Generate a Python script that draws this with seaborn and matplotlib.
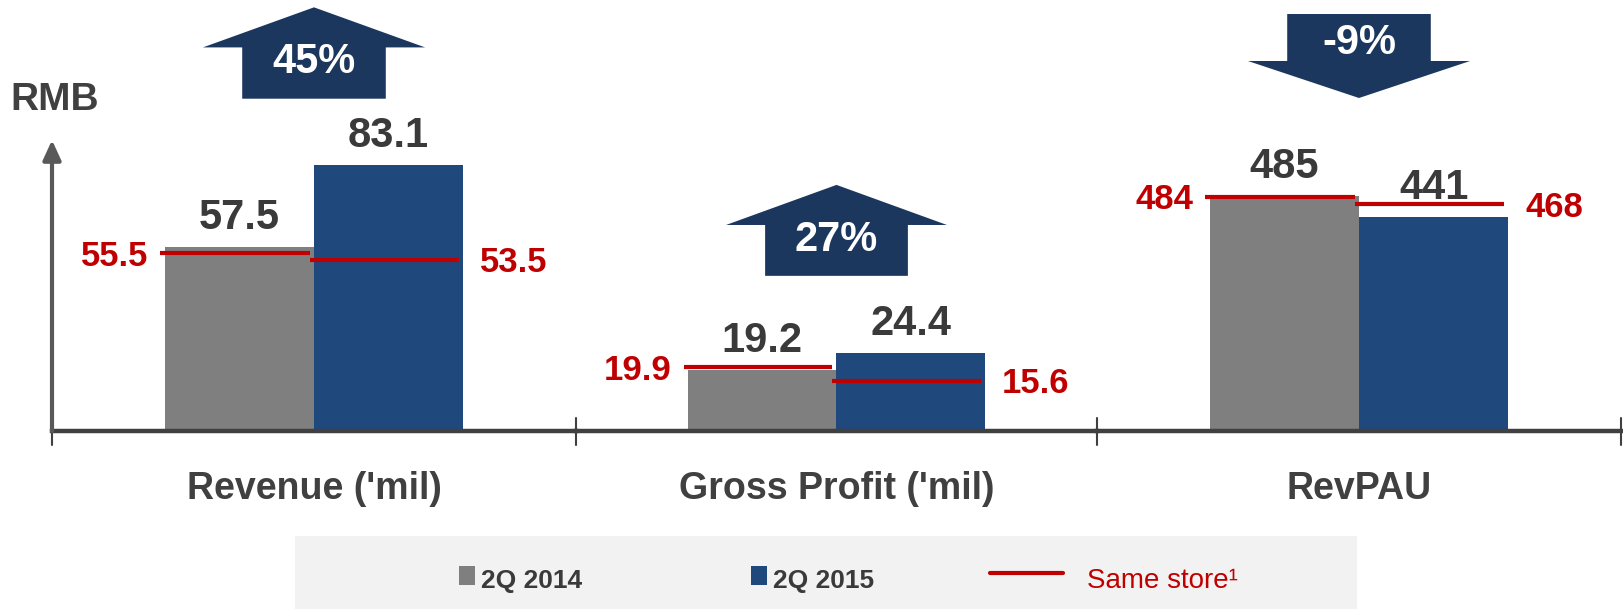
import matplotlib
matplotlib.use('Agg')
import matplotlib.pyplot as plt
from matplotlib.patches import Polygon, Rectangle
from matplotlib.lines import Line2D
import pandas as pd
import seaborn as sns

# values
metrics = ["Revenue ('mil)", "Gross Profit ('mil)", "RevPAU"]
periods = ['2Q 2014', '2Q 2015']
values_2014 = [57.5, 19.2, 485]
values_2015 = [83.1, 24.4, 441]
same_store_2014 = [55.5, 19.9, 484]
same_store_2015 = [53.5, 15.6, 468]
changes = ['45%', '27%', '-9%']
y_limits = [134.7, 134.7, 890]

GRAY = '#7F7F7F'
BLUE = '#1F497D'
NAVY = '#1B375E'
RED = '#C00000'
DARK = '#3A3A3A'
AXIS = '#404040'

sns.set_style('white')
plt.rcParams['font.family'] = ['Liberation Sans', 'DejaVu Sans']

df = pd.DataFrame({
	'metric': metrics * 2,
	'period': [periods[0]] * 3 + [periods[1]] * 3,
	'value': values_2014 + values_2015,
})

W, H = 1624, 609
fig = plt.figure(figsize=(W / 100, H / 100), dpi=100)

# one axes per group, each with its own scale
ax_px = [(52, 524), (576, 521), (1097, 524)]
base_px = 431
# arrow geometry in axes fraction: tip, head base, tail end, text y
arrow_geom = [(0.983, 0.890, 0.771, 0.856),
			  (0.571, 0.478, 0.360, 0.443),
			  (0.7726, 0.8585, 0.9675, 0.900)]

axes = []
for i, m in enumerate(metrics):
	x0, w = ax_px[i]
	ax = fig.add_axes([x0 / W, (H - base_px) / H, w / W, base_px / H])
	axes.append(ax)
	sns.barplot(data=df[df.metric == m], x='metric', y='value', hue='period',
				order=[m], hue_order=periods, palette=[GRAY, BLUE],
				width=0.57, saturation=1, legend=False, linewidth=0, ax=ax)
	ax.set_xlim(-0.5, 0.5)
	ax.set_ylim(0, y_limits[i])
	ax.set_yticks([])
	ax.set_xlabel('')
	ax.set_ylabel('')
	ax.patch.set_alpha(0)
	for s in ['top', 'right', 'left']:
		ax.spines[s].set_visible(False)
	ax.spines['bottom'].set_linewidth(3.2)
	ax.spines['bottom'].set_color(AXIS)
	ax.tick_params(axis='x', length=0, pad=29, labelsize=27, labelcolor=AXIS)
	for t in ax.get_xticklabels():
		t.set_fontweight('bold')

	# group separators
	ax.axvline(-0.5, ymin=-14 / base_px, ymax=13 / base_px, color=AXIS, lw=1.5, clip_on=False)
	if i == len(metrics) - 1:
		ax.axvline(0.5, ymin=-14 / base_px, ymax=13 / base_px, color=AXIS, lw=1.5, clip_on=False)

	bars = sorted(ax.patches, key=lambda p: p.get_x())
	vals = [values_2014[i], values_2015[i]]
	same = [same_store_2014[i], same_store_2015[i]]
	for bar, v, s in zip(bars, vals, same):
		cx = bar.get_x() + bar.get_width() / 2
		ax.annotate(f'{v:g}', (cx, bar.get_height()), xytext=(0, 13),
					textcoords='offset points', ha='center', va='baseline',
					fontsize=30, fontweight='bold', color=DARK)
		ax.hlines(s, bar.get_x() - 0.008, bar.get_x() + bar.get_width() - 0.008,
				  color=RED, lw=3, zorder=3)
	ax.annotate(f'{same[0]:g}', (bars[0].get_x(), same[0]), xytext=(-12, -2),
				textcoords='offset points', ha='right', va='center',
				fontsize=25, fontweight='bold', color=RED)
	ax.annotate(f'{same[1]:g}', (bars[1].get_x() + bars[1].get_width(), same[1]),
				xytext=(12, -2), textcoords='offset points', ha='left', va='center',
				fontsize=25, fontweight='bold', color=RED)

	# change arrow
	tip, hb, tail, ty = arrow_geom[i]
	hw, bw, c = 0.212, 0.137, 0.5
	pts = [(c, tip), (c + hw, hb), (c + bw, hb), (c + bw, tail),
		   (c - bw, tail), (c - bw, hb), (c - hw, hb)]
	ax.add_patch(Polygon(pts, closed=True, transform=ax.transAxes,
						 facecolor=NAVY, edgecolor='none', clip_on=False))
	ax.text(c, ty, changes[i], transform=ax.transAxes, ha='center', va='center',
			fontsize=30, fontweight='bold', color='white')

# y axis arrow and unit
axes[0].annotate('', xy=(0, 0.675), xytext=(0, 0), xycoords='axes fraction',
				 arrowprops=dict(arrowstyle='-|>,head_width=0.55,head_length=1.2',
								 mutation_scale=10, color='#595959', lw=3,
								 shrinkA=0, shrinkB=0),
				 annotation_clip=False)
fig.text(54.5 / W, 1 - 110 / H, 'RMB', ha='center', va='baseline',
		 fontsize=28, fontweight='bold', color=AXIS)

# legend strip
fig.patches.append(Rectangle((295 / W, 0), (1357 - 295) / W, 73 / H,
							 transform=fig.transFigure, facecolor='#F2F2F2',
							 edgecolor='none', zorder=0))
for sx, col, lab in [(459, GRAY, periods[0]), (751, BLUE, periods[1])]:
	fig.patches.append(Rectangle((sx / W, 1 - 585 / H), 16 / W, 19 / H,
								 transform=fig.transFigure, facecolor=col,
								 edgecolor='none', zorder=1))
	fig.text((sx + 22) / W, 1 - 588 / H, lab, ha='left', va='baseline',
			 fontsize=19, fontweight='bold', color=DARK)
fig.lines.append(Line2D([990 / W, 1063 / W], [1 - 573 / H, 1 - 573 / H],
						transform=fig.transFigure, color=RED, lw=3))
fig.text(1087 / W, 1 - 588 / H, 'Same store\u00b9', ha='left', va='baseline',
		 fontsize=20, color=RED)

fig.savefig('out.png', dpi=100)
